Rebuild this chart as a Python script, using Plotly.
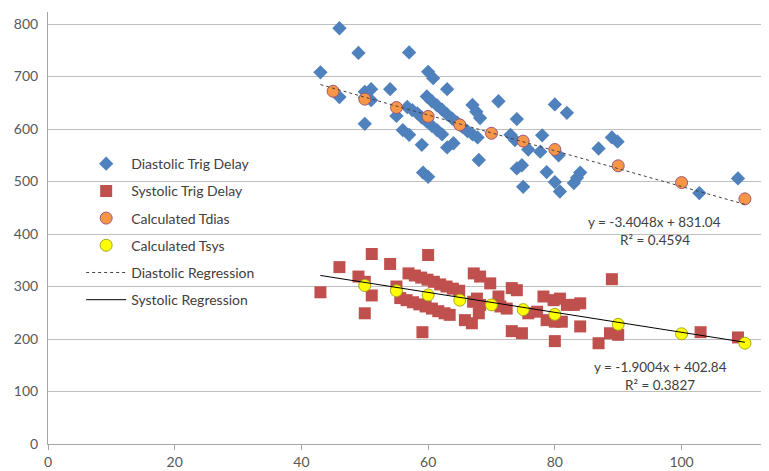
import plotly.graph_objects as go

# ---- data ----
dias_x = [43, 46, 49, 46, 50, 50, 51, 51, 50, 54, 55, 57, 56, 57, 59, 59.2, 60, 60, 60.8, 63,
          56.7, 57.5, 58.3, 59, 59.8, 60.6, 61.4, 62.2,
          59.8, 60.6, 61.4, 62.2, 63, 63.8, 64.6, 65.4, 66.2, 67, 67.8,
          63, 64, 67, 67.6, 68.2, 71.1, 74, 73, 73.7, 78, 75.8, 77.7, 80.6, 80, 81.9,
          86.9, 89, 89.9, 68, 74, 74.8, 75, 78.7, 80, 80.8, 83, 83.5, 84, 102.8, 108.9]
dias_y = [708, 792, 745, 661, 660, 671, 676, 655, 610, 676, 625, 746, 598, 589, 570, 517, 509, 709, 697, 676,
          642, 636, 630, 622, 614, 606, 598, 590,
          662, 653, 645, 637, 628, 620, 612, 604, 596, 590, 584,
          565, 573, 646, 633, 621, 653, 619, 589, 579, 588, 561, 557, 550, 647, 631,
          563, 584, 576, 541, 525, 531, 490, 518, 499, 481, 497, 507, 517, 478, 506]

sys_x = [43, 46, 49, 50, 51.1, 51.1, 50, 54, 55, 60, 59.1,
         56.9, 57.9, 58.9, 59.9, 60.9, 61.9, 62.9, 63.9, 64.9,
         55.6, 56.6, 57.6, 58.6, 59.6, 60.6, 61.6, 62.6, 63.4,
         65.8, 66.9, 67.2, 68.2, 69.8, 73.2, 74, 67.7, 68.2, 68, 67.1,
         71.1, 71.4, 72.4, 73.2, 74.8, 78.2, 79.8, 80.8, 81.9, 83, 84,
         75.8, 77.2, 78.7, 80, 81.1, 84, 80, 86.9, 89, 88.7, 90, 103, 108.9]
sys_y = [289, 337, 319, 309, 362, 283, 249, 343, 300, 360, 213,
         325, 321, 317, 313, 309, 304, 300, 296, 292,
         278, 274, 270, 266, 262, 258, 253, 249, 246,
         236, 230, 325, 319, 306, 297, 293, 277, 265, 249, 271,
         281, 262, 258, 215, 211, 281, 274, 277, 265, 265, 268,
         249, 252, 236, 233, 233, 224, 196, 192, 314, 211, 208, 213, 203]

tdias_x = [45, 50, 55, 60, 65, 70, 75, 80, 90, 100, 110]
tdias_y = [672, 657, 641, 624, 608, 592, 577, 561, 530, 498, 467]

tsys_x = [50, 55, 60, 65, 70, 75, 80, 90, 100, 110]
tsys_y = [302, 292, 284, 274, 265, 256, 247, 228, 210, 192]

# trendline coefficients (from the chart's equations)
dias_slope, dias_icpt, dias_r2 = -3.4048, 831.04, 0.4594
sys_slope, sys_icpt, sys_r2 = -1.9004, 402.84, 0.3827
reg_x = [43, 110]

dias_reg_y = [dias_slope * x + dias_icpt for x in reg_x]
sys_reg_y = [sys_slope * x + sys_icpt for x in reg_x]

fig = go.Figure()
fig.add_trace(go.Scatter(x=dias_x, y=dias_y, mode="markers", name="Diastolic Trig Delay",
                         legendgroup="a",
                         marker=dict(symbol="diamond", size=11, color="#4F81BD")))
fig.add_trace(go.Scatter(x=sys_x, y=sys_y, mode="markers", name="Systolic Trig Delay",
                         legendgroup="b",
                         marker=dict(symbol="square", size=12, color="#C0504D")))
fig.add_trace(go.Scatter(x=tdias_x, y=tdias_y, mode="markers", name="Calculated Tdias",
                         legendgroup="c",
                         marker=dict(symbol="circle", size=12, color="#F79646",
                                     line=dict(color="#9E5676", width=1))))
fig.add_trace(go.Scatter(x=tsys_x, y=tsys_y, mode="markers", name="Calculated Tsys",
                         legendgroup="d",
                         marker=dict(symbol="circle", size=12, color="#FFFF00",
                                     line=dict(color="#A8A820", width=1))))
fig.add_trace(go.Scatter(x=reg_x, y=dias_reg_y, mode="lines", name="Diastolic Regression",
                         legendgroup="e",
                         line=dict(color="#404040", width=1, dash="dot")))
fig.add_trace(go.Scatter(x=reg_x, y=sys_reg_y, mode="lines", name="Systolic Regression",
                         legendgroup="f",
                         line=dict(color="#000000", width=1)))

def eq_text(m, b):
    return f"y = {m}x + {b}"

ann_font = dict(family="Lato", size=13.5, color="#404040")
fig.add_annotation(x=95.8, y=423, xref="x", yref="y", text=eq_text(dias_slope, dias_icpt),
                   showarrow=False, font=ann_font)
fig.add_annotation(x=95.8, y=389, xref="x", yref="y", text=f"R² = {dias_r2}",
                   showarrow=False, font=ann_font)
fig.add_annotation(x=96.6, y=147, xref="x", yref="y", text=eq_text(sys_slope, sys_icpt),
                   showarrow=False, font=ann_font)
fig.add_annotation(x=96.6, y=112, xref="x", yref="y", text=f"R² = {sys_r2}",
                   showarrow=False, font=ann_font)

fig.update_layout(
    width=761, height=463,
    margin=dict(l=40, r=0, t=4, b=27),
    plot_bgcolor="white", paper_bgcolor="white",
    font=dict(family="Lato", size=14, color="#595959"),
    showlegend=True,
    legend=dict(x=0.046, y=0.685, xanchor="left", yanchor="top",
                bgcolor="rgba(0,0,0,0)", font=dict(family="Lato", size=14, color="#404040"),
                traceorder="grouped", tracegroupgap=6, itemwidth=40),
    xaxis=dict(range=[0, 113.8], dtick=20, tick0=0, showgrid=False, zeroline=False,
               showline=True, linecolor="#A6A6A6", linewidth=1,
               ticks="outside", ticklen=5, tickcolor="#A6A6A6",
               tickfont=dict(family="Lato", size=14, color="#595959"),
               automargin=False),
    yaxis=dict(range=[0, 823], dtick=100, tick0=0, showgrid=True, gridcolor="#BFBFBF",
               gridwidth=1, zeroline=False, showline=True, linecolor="#A6A6A6", linewidth=1,
               ticks="", ticklabelstandoff=6,
               tickfont=dict(family="Lato", size=14, color="#595959"),
               automargin=False),
)

fig.write_html("out.html")
